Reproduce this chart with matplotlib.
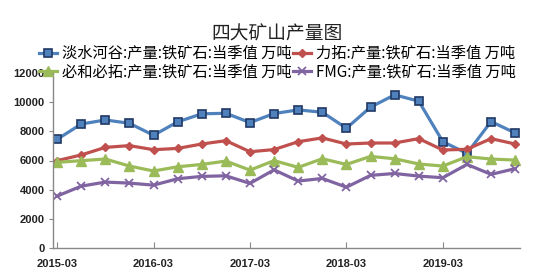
import numpy as np
import matplotlib
matplotlib.use('Agg')
import matplotlib.pyplot as plt

plt.rcParams['font.family'] = ['Noto Sans CJK SC', 'DejaVu Sans']

# quarterly, 2015-03 .. 2019-12
quarters = ['2015-03', '2015-06', '2015-09', '2015-12',
            '2016-03', '2016-06', '2016-09', '2016-12',
            '2017-03', '2017-06', '2017-09', '2017-12',
            '2018-03', '2018-06', '2018-09', '2018-12',
            '2019-03', '2019-06', '2019-09', '2019-12']
tick_labels = ['2015-03', '2016-03', '2017-03', '2018-03', '2019-03']

vale = [7450, 8500, 8780, 8550, 7730, 8650, 9200, 9240, 8600, 9220,
        9470, 9310, 8210, 9660, 10500, 10070, 7290, 6490, 8670, 7890]
rio = [5990, 6380, 6900, 7020, 6740, 6830, 7130, 7360, 6600, 6750,
       7290, 7550, 7130, 7200, 7200, 7500, 6720, 6770, 7500, 7130]
bhp = [5870, 5990, 6100, 5620, 5280, 5570, 5730, 5960, 5340, 5990,
       5530, 6120, 5730, 6280, 6120, 5760, 5620, 6260, 6100, 6030]
fmg = [3560, 4240, 4520, 4450, 4310, 4750, 4910, 4950, 4430, 5360,
       4590, 4770, 4170, 4980, 5110, 4930, 4820, 5730, 5050, 5440]

names = ['淡水河谷:产量:铁矿石:当季值 万吨', '力拓:产量:铁矿石:当季值 万吨',
         '必和必拓:产量:铁矿石:当季值 万吨', 'FMG:产量:铁矿石:当季值 万吨']

fig = plt.figure(figsize=(5.54, 2.8), dpi=100)
ax = fig.add_axes([53/554, 1-248/280, (520-53)/554, (248-73)/280])

x = np.arange(len(quarters))
l1, = ax.plot(x, vale, c='#4F81BD', lw=2.3, marker='s', ms=6,
              mfc='#4F81BD', mec='#1F3864', mew=1.2)
l2, = ax.plot(x, rio, c='#C0504D', lw=2.3, marker='D', ms=4,
              mfc='#C0504D', mec='#C0504D')
l3, = ax.plot(x, bhp, c='#9BBB59', lw=2.3, marker='^', ms=6.5,
              mfc='#9BBB59', mec='#9BBB59')
l4, = ax.plot(x, fmg, c='#8064A2', lw=2.3, marker='x', ms=6,
              mec='#8064A2', mew=1.3)

ax.set_xlim(-0.17, 19.2)
ax.set_ylim(0, 12000)
ax.set_yticks(np.arange(0, 12001, 2000))
ax.set_xticks([quarters.index(t) for t in tick_labels])
ax.set_xticklabels(tick_labels)

for s in ['top', 'right']:
    ax.spines[s].set_visible(False)
for s in ['left', 'bottom']:
    ax.spines[s].set_color('#888888')
    ax.spines[s].set_linewidth(1.0)
ax.tick_params(axis='x', direction='in', length=4, color='#888888', pad=8)
ax.tick_params(axis='y', direction='out', length=3, color='#888888', pad=3)
for lab in ax.get_xticklabels() + ax.get_yticklabels():
    lab.set_fontfamily('Liberation Sans')
    lab.set_fontweight('bold')
    lab.set_fontsize(8)
    lab.set_color('#222222')

fig.text(0.5, 1-34/280, '四大矿山产量图', ha='center', va='center',
         fontsize=13.5, color='#222222')

fig.legend([l1, l3, l2, l4], [names[0], names[2], names[1], names[3]],
           ncol=2, loc='upper left', bbox_to_anchor=(39/554, 1-45/280),
           frameon=False, fontsize=11, handlelength=1.15, handletextpad=0.35,
           columnspacing=0.1, labelspacing=0.1, borderaxespad=0,
           borderpad=0)

fig.savefig('out.png', dpi=100)
